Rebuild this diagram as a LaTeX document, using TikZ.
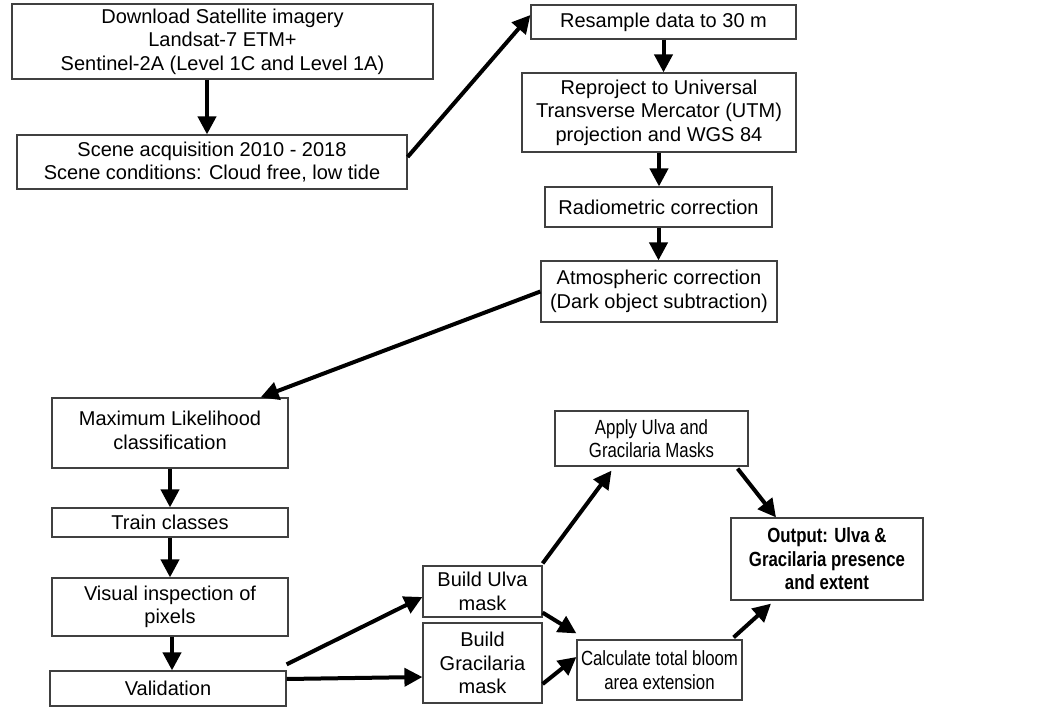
\documentclass[tikz,border=0pt]{standalone}
\usepackage{fontspec}
\setmainfont{Liberation Sans}
\newfontfamily\narrowfont[FakeStretch=0.82]{Liberation Sans}
\usetikzlibrary{arrows.meta}
\tikzset{
  box/.style={draw=black!75, line width=1.2pt, fill=white, inner sep=0pt, align=center,
    font=\fontsize{20}{23.5}\selectfont},
  nbox/.style={box, font=\narrowfont\fontsize{20.5}{23.5}\selectfont},
  arr/.style={line width=4pt, -{Triangle[length=18pt,width=18pt]}}
}
\begin{document}
\begin{tikzpicture}[x=1pt,y=-1pt]
\useasboundingbox (0,0) rectangle (1037,709);
% left column top
\node[box, minimum width=421pt, minimum height=75pt] (dl) at (222.5,41.5) {Download Satellite imagery\\Landsat-7 ETM+\\Sentinel-2A (Level 1C and Level 1A)};
\node[box, minimum width=390pt, minimum height=54pt] (scene) at (212,162) {Scene acquisition 2010 - 2018\\Scene conditions: Cloud free, low tide};
% right column top
\node[box, minimum width=265pt, minimum height=34pt] (resample) at (663.5,22) {Resample data to 30 m};
\node[box, minimum width=274pt, minimum height=79pt] (reproject) at (659,112.5) {Reproject to Universal\\Transverse Mercator (UTM)\\projection and WGS 84};
\node[box, minimum width=227pt, minimum height=40pt] (radio) at (658.5,207) {Radiometric correction};
\node[box, minimum width=236pt, minimum height=61pt] (atmos) at (659,291.5) {Atmospheric correction\\(Dark object subtraction)};
% left column bottom
\node[box, minimum width=236pt, minimum height=70pt] (ml) at (170,433) {\raisebox{6pt}{\begin{tabular}{@{}c@{}}Maximum Likelihood\\classification\end{tabular}}};
\node[box, minimum width=236pt, minimum height=29pt] (train) at (170,522.5) {Train classes};
\node[box, minimum width=236pt, minimum height=58pt] (visual) at (170,607) {Visual inspection of\\pixels};
\node[box, minimum width=236pt, minimum height=35pt] (valid) at (168,688.5) {Validation};
% bottom right
\node[box, minimum width=119pt, minimum height=51pt] (ulva) at (482.5,591.5) {Build Ulva\\mask};
\node[box, minimum width=119pt, minimum height=80pt] (grac) at (482.5,663) {Build\\Gracilaria\\mask};
\node[nbox, minimum width=193pt, minimum height=55pt] (apply) at (651.5,438.5) {Apply Ulva and\\Gracilaria Masks};
\node[nbox, minimum width=192pt, minimum height=82pt, font=\narrowfont\bfseries\fontsize{20.5}{23.5}\selectfont] (output) at (827,559) {Output: Ulva \&\\Gracilaria presence\\and extent};
\node[nbox, minimum width=165pt, minimum height=60pt] (calc) at (659.5,670) {Calculate total bloom\\area extension};
% connectors
\draw[arr] ([xshift=-15.5pt]dl.south) -- ([xshift=-15.5pt]dl.south |- scene.north);
\draw[arr] ([yshift=5pt]scene.east) -- ([yshift=7pt]resample.west);
\draw[arr] (resample.south) -- (resample.south |- reproject.north);
\draw[arr] (reproject.south) -- (reproject.south |- radio.north);
\draw[arr] (radio.south) -- (radio.south |- atmos.north);
\draw[arr] (atmos.west) -- ([xshift=-28pt]ml.north east);
\draw[arr] (ml.south) -- (train.north);
\draw[arr] (train.south) -- (visual.north);
\draw[arr] ([xshift=2pt]visual.south) -- ([xshift=2pt]visual.south |- valid.north);
\draw[arr] ([yshift=6pt]valid.north east) -- ([yshift=-5.5pt]ulva.west);
\draw[arr] ([yshift=9.5pt]valid.east) -- ([yshift=-14pt]grac.west);
\draw[arr] ([yshift=2pt]ulva.north east) -- ([xshift=-40pt,yshift=-4pt]apply.south);
\draw[arr] ([xshift=-11pt,yshift=-2pt]apply.south east) -- ([xshift=-51pt]output.north);
\draw[arr] ([yshift=5pt]ulva.south east) -- ([yshift=6pt]calc.north west);
\draw[arr] ([yshift=-21pt]grac.east) -- ([yshift=13pt]calc.west);
\draw[arr] ([xshift=-9pt,yshift=2pt]calc.north east) -- ([xshift=-56pt,yshift=-3pt]output.south);
\end{tikzpicture}
\end{document}
